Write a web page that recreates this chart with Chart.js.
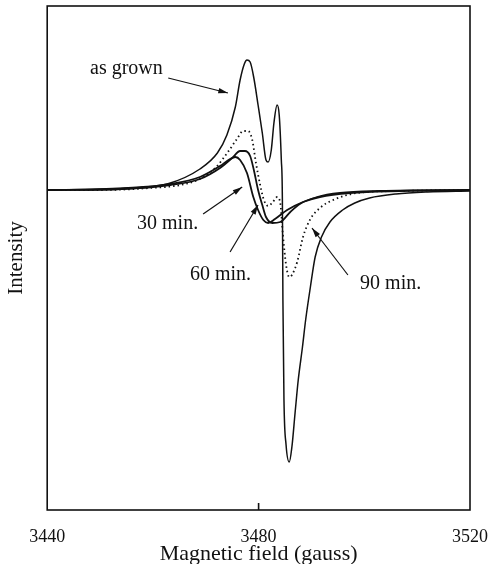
<!DOCTYPE html>
<html>
<head>
<meta charset="utf-8">
<script src="https://cdn.jsdelivr.net/npm/chart.js@4.4.1/dist/chart.umd.min.js"></script>
<style>
  html, body { margin: 0; padding: 0; background: #fff; }
  #wrap { width: 488px; height: 564px; }
</style>
</head>
<body>
<div id="wrap"><canvas id="epr" width="488" height="564"></canvas></div>
<script>
// field in gauss, intensity in arbitrary units
const grownField = [3440, 3450, 3457.6, 3462.7, 3468.9, 3472.2, 3474.0, 3475.6, 3476.5, 3477.3, 3477.8, 3478.4, 3479.1, 3479.9, 3480.7, 3481.4, 3481.8, 3482.4, 3482.9, 3483.5, 3483.9, 3484.3, 3484.5, 3484.6, 3484.8, 3485.2, 3485.8, 3486.3, 3486.9, 3487.5, 3488.3, 3488.9, 3489.8, 3490.7, 3491.9, 3493.5, 3495.9, 3498.2, 3501.0, 3506.0, 3512.0, 3520];
const grownInt   = [0, 1, 3, 6, 21, 37, 55, 83, 110, 126, 130, 128, 112, 85, 57, 30, 28, 40, 67, 85, 75, 30, -10, -110, -210, -255, -272, -257, -223, -190, -157, -130, -97, -67, -47, -32, -20, -13, -8, -4, -2, -1];

const dotField = [3440, 3450, 3459.5, 3465.2, 3468.9, 3471.8, 3474.2, 3475.9, 3477.1, 3478.0, 3478.8, 3479.5, 3480.3, 3481.0, 3481.8, 3482.7, 3483.5, 3484.1, 3484.6, 3485.2, 3485.8, 3486.3, 3487.3, 3488.4, 3489.7, 3491.6, 3494.1, 3498.6, 3506.8, 3520];
const dotInt   = [0, 0, 2, 5, 11, 22, 38, 51, 59, 59, 50, 27, 5, -10, -16, -12, -7, -13, -45, -75, -87, -85, -72, -47, -30, -18, -10, -3, -1, 0];

const aField = [3440, 3453.8, 3463.3, 3468.9, 3472.7, 3475.0, 3476.5, 3477.4, 3478.4, 3479.1, 3479.9, 3480.7, 3481.4, 3482.6, 3484.1, 3486.0, 3487.8, 3491.1, 3495.4, 3503.0, 3520];
const aInt   = [0, 1, 5, 11, 22, 32, 39, 39, 34, 20, 0, -15, -27, -33, -32, -22, -14, -7, -3, -1, 0];

const bField = [3440, 3453.8, 3463.3, 3468.9, 3472.7, 3474.6, 3475.6, 3476.5, 3477.8, 3479.0, 3479.9, 3480.9, 3481.8, 3483.1, 3485.4, 3488.4, 3491.6, 3497.3, 3506.8, 3520];
const bInt   = [0, 1, 6, 13, 24, 31, 33, 30, 17, -7, -20, -30, -33, -29, -20, -12, -7, -3, -1, 0];

const xTicks = [3440, 3480, 3520];

// text labels with arrows: [text, textX, textY, fromX, fromY, toX, toY]
const notes = [
  ['as grown', 3448.1, 116, 3462.9, 112, 3474.2, 97],
  ['30 min.', 3457.0, -39, 3469.5, -24, 3476.9, 3],
  ['60 min.', 3467.0, -90, 3474.6, -62, 3479.9, -15],
  ['90 min.', 3499.2, -99, 3496.9, -85, 3490.1, -38]
];

const pts = (xs, ys) => xs.map((x, i) => ({ x, y: ys[i] }));
const serif = '"Liberation Serif", "DejaVu Serif", serif';

const framePlugin = {
  id: 'frame',
  afterDraw(chart) {
    const { ctx, chartArea: a, scales } = chart;
    const xs = scales.x, ys = scales.y;
    ctx.save();
    ctx.strokeStyle = '#111';
    ctx.lineWidth = 1.6;
    ctx.strokeRect(a.left, a.top, a.right - a.left, a.bottom - a.top);
    // inward ticks
    const tx = xs.getPixelForValue(3480);
    ctx.beginPath();
    ctx.moveTo(tx, a.bottom); ctx.lineTo(tx, a.bottom - 7);
    const ty = ys.getPixelForValue(0);
    ctx.moveTo(a.left, ty); ctx.lineTo(a.left + 7, ty);
    ctx.stroke();

    ctx.fillStyle = '#111';
    ctx.font = '20px ' + serif;
    ctx.textBaseline = 'alphabetic';
    ctx.lineWidth = 1.2;
    notes.forEach(n => {
      ctx.fillText(n[0], xs.getPixelForValue(n[1]), ys.getPixelForValue(n[2]));
      const x0 = xs.getPixelForValue(n[3]), y0 = ys.getPixelForValue(n[4]);
      const x1 = xs.getPixelForValue(n[5]), y1 = ys.getPixelForValue(n[6]);
      ctx.beginPath();
      ctx.moveTo(x0, y0); ctx.lineTo(x1, y1);
      ctx.stroke();
      const ang = Math.atan2(y1 - y0, x1 - x0);
      ctx.beginPath();
      ctx.moveTo(x1, y1);
      ctx.lineTo(x1 - 10 * Math.cos(ang - 0.28), y1 - 10 * Math.sin(ang - 0.28));
      ctx.lineTo(x1 - 10 * Math.cos(ang + 0.28), y1 - 10 * Math.sin(ang + 0.28));
      ctx.closePath();
      ctx.fill();
    });
    ctx.restore();
  }
};

const line = (data, width, dash) => ({
  data,
  borderColor: '#111',
  borderWidth: width,
  borderDash: dash || [],
  pointRadius: 0,
  fill: false,
  showLine: true,
  cubicInterpolationMode: 'monotone'
});

new Chart(document.getElementById('epr'), {
  type: 'scatter',
  data: {
    datasets: [
      line(pts(bField, bInt), 1.8),
      line(pts(aField, aInt), 1.8),
      line(pts(dotField, dotInt), 1.8, [1.5, 3]),
      line(pts(grownField, grownInt), 1.5)
    ]
  },
  options: {
    responsive: false,
    animation: false,
    layout: { padding: { left: 4, right: 18, top: 6, bottom: 0 } },
    plugins: { legend: { display: false }, tooltip: { enabled: false } },
    scales: {
      x: {
        type: 'linear',
        min: 3440, max: 3520,
        afterBuildTicks: s => { s.ticks = xTicks.map(v => ({ value: v })); },
        afterFit: s => { s.paddingLeft = 0; s.paddingRight = 0; },
        grid: { display: false, drawTicks: false },
        border: { display: false },
        ticks: { color: '#111', font: { family: serif, size: 18 }, padding: 16, maxRotation: 0, callback: v => String(v) },
        title: { display: true, text: 'Magnetic field (gauss)', color: '#111', font: { family: serif, size: 22 }, padding: { top: -23, bottom: -3 } }
      },
      y: {
        type: 'linear',
        min: -320, max: 184,
        grid: { display: false, drawTicks: false },
        border: { display: false },
        ticks: { display: false },
        title: { display: true, text: 'Intensity', color: '#111', font: { family: serif, size: 21 }, padding: { top: 0, bottom: 18 } }
      }
    }
  },
  plugins: [framePlugin]
});
</script>
</body>
</html>
